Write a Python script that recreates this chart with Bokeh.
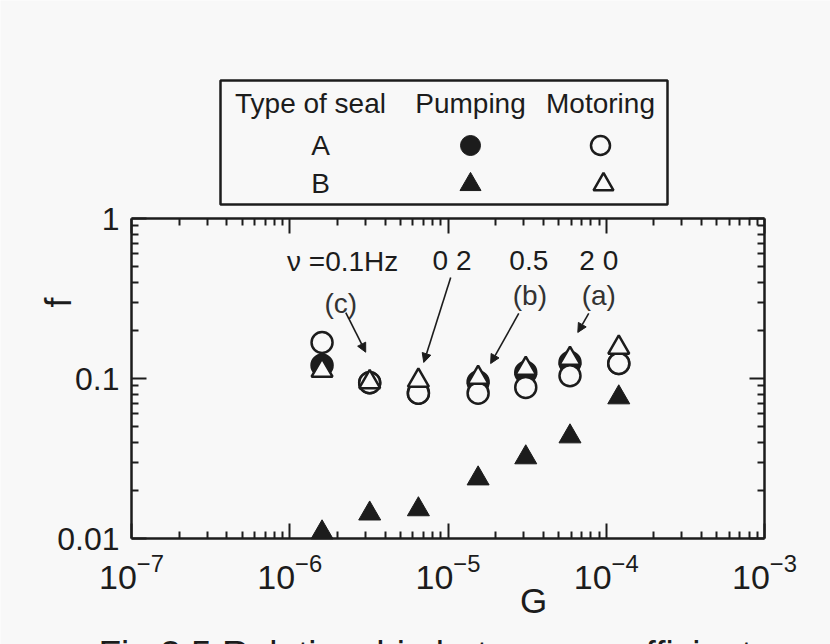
import math
from bokeh.plotting import figure
from bokeh.models import (Range1d, LogAxis, FixedTicker, CustomJSTickFormatter,
                          Label, Arrow, NormalHead, LinearScale)
from bokeh.core.properties import value
from bokeh.embed import file_html
from bokeh.resources import INLINE

# ---------------- data ----------------
G = [1.6e-6, 3.2e-6, 6.5e-6, 1.55e-5, 3.1e-5, 5.9e-5, 1.2e-4]
pumping_A = [0.121, 0.094, 0.081, 0.095, 0.109, 0.126, 0.124]
pumping_B = [0.0109, 0.0143, 0.0152, 0.0237, 0.0321, 0.0434, 0.0761]
motoring_A = [0.168, 0.094, 0.081, 0.081, 0.088, 0.104, 0.124]
motoring_B = [0.112, 0.095, 0.097, 0.101, 0.115, 0.133, 0.156]

x_ticks = [1e-7, 1e-6, 1e-5, 1e-4, 1e-3]
y_ticks = [0.01, 0.1, 1]
y_tick_labels = ["0.01", "0.1", "1"]

legend_header = ["Type of seal", "Pumping", "Motoring"]
legend_rows = ["A", "B"]

freq_texts = ["\u03bd =0.1Hz", "0 2", "0.5", "2 0"]
freq_G = [2.16e-6, 1.06e-5, 3.24e-5, 8.97e-5]
freq_f = [0.54, 0.55, 0.55, 0.55]
case_texts = ["(c)", "(b)", "(a)"]
case_G = [2.1e-6, 3.29e-5, 8.97e-5]
case_f = [0.294, 0.33, 0.33]
# arrows: (G_start, f_start, G_end, f_end)
arrows = [
    (2.26e-6, 0.258, 3.02e-6, 0.146),
    (1.04e-5, 0.428, 7.03e-6, 0.126),
    (2.80e-5, 0.255, 1.86e-5, 0.124),
    (7.75e-5, 0.255, 6.61e-5, 0.194),
]

x_label = "G"
y_label = "f"
caption = "Fig.3.5 Relationship between coefficient"

X_MIN, X_MAX = 1e-7, 1e-3
Y_MIN, Y_MAX = 0.01, 1.0

BG = "#f8f8f8"
INK = "#1c1c1c"
FONT = "Liberation Sans"

# ---------------- page geometry (pixels) ----------------
W, H = 830, 644
BOX_L, BOX_R, BOX_T, BOX_B = 131, 764, 218, 538
dec_x = (BOX_R - BOX_L) / (math.log10(X_MAX) - math.log10(X_MIN))
dec_y = (BOX_B - BOX_T) / (math.log10(Y_MAX) - math.log10(Y_MIN))
xr = Range1d(10 ** (math.log10(X_MIN) - BOX_L / dec_x), 10 ** (math.log10(X_MAX) + (W - BOX_R) / dec_x))
yr = Range1d(10 ** (math.log10(Y_MIN) - (H - BOX_B) / dec_y), 10 ** (math.log10(Y_MAX) + BOX_T / dec_y))

x_minor = [m * 10.0 ** e for e in range(-7, -3) for m in range(2, 10)]
y_minor = [m * 10.0 ** e for e in range(-2, 0) for m in range(2, 10)]

p = figure(width=W, height=H, x_axis_type="log", y_axis_type="log",
           x_range=xr, y_range=yr, output_backend="svg", toolbar_location=None,
           min_border=0, min_border_left=0, min_border_right=0, min_border_top=0, min_border_bottom=0,
           background_fill_color=BG, border_fill_color=BG, outline_line_color=None)
p.grid.visible = False
p.extra_x_ranges = {"px": Range1d(0, W)}
p.extra_y_ranges = {"py": Range1d(H, 0)}
p.extra_x_scales = {"px": LinearScale()}
p.extra_y_scales = {"py": LinearScale()}

yfmt = CustomJSTickFormatter(args=dict(yvals=y_ticks, ylabs=y_tick_labels), code="""
let best = 0, d = Infinity;
for (let i = 0; i < yvals.length; i++) {
  const e = Math.abs(Math.log10(tick) - Math.log10(yvals[i]));
  if (e < d) { d = e; best = i; }
}
return ylabs[best];
""")

def style_axis(ax):
    ax.axis_line_color = INK
    ax.axis_line_width = 2.5
    ax.major_tick_in = 15
    ax.major_tick_out = 0
    ax.minor_tick_in = 7
    ax.minor_tick_out = 0
    ax.major_tick_line_color = INK
    ax.minor_tick_line_color = INK
    ax.major_tick_line_width = 2
    ax.minor_tick_line_width = 2
    ax.major_label_text_font = FONT
    ax.major_label_text_color = INK

xa = p.xaxis[0]
xa.ticker = FixedTicker(ticks=x_ticks, minor_ticks=x_minor)
xa.fixed_location = Y_MIN
xa.bounds = (X_MIN, X_MAX)
style_axis(xa)
xa.major_label_text_font_size = "34px"
xa.major_label_standoff = 15

ya = p.yaxis[0]
ya.ticker = FixedTicker(ticks=y_ticks, minor_ticks=y_minor)
ya.formatter = yfmt
ya.fixed_location = X_MIN
ya.bounds = (Y_MIN, Y_MAX)
style_axis(ya)
ya.major_label_text_font_size = "32px"
ya.major_label_standoff = 12

top = LogAxis(ticker=FixedTicker(ticks=x_ticks, minor_ticks=x_minor),
              fixed_location=Y_MAX, bounds=(X_MIN, X_MAX))
style_axis(top)
top.major_label_text_font_size = "1px"
top.major_label_text_alpha = 0
top.major_label_standoff = 0
p.add_layout(top, "above")
right = LogAxis(ticker=FixedTicker(ticks=y_ticks, minor_ticks=y_minor),
                fixed_location=X_MAX, bounds=(Y_MIN, Y_MAX))
style_axis(right)
right.major_label_text_font_size = "1px"
right.major_label_text_alpha = 0
right.major_label_standoff = 0
p.add_layout(right, "right")

# ---------------- data markers ----------------
p.scatter(G, pumping_A, marker="circle", size=22, fill_color=INK, line_color=INK, line_width=1.5)
p.scatter(G, pumping_B, marker="triangle", size=22, fill_color=INK, line_color=INK, line_width=1)
p.scatter(G, motoring_A, marker="circle", size=21, fill_color=BG, line_color=INK, line_width=2.5)
p.scatter(G, motoring_B, marker="triangle", size=21, fill_color=BG, line_color=INK, line_width=2.5)

# ---------------- annotations in data space ----------------
for t, gx, fy in zip(freq_texts, freq_G, freq_f):
    p.add_layout(Label(x=gx, y=fy, text=t, text_align="center", text_baseline="middle",
                       text_font=FONT, text_font_size="28px", text_color=INK))
for t, gx, fy in zip(case_texts, case_G, case_f):
    p.add_layout(Label(x=gx, y=fy, text=t, text_align="center", text_baseline="middle",
                       text_font=FONT, text_font_size="28px", text_color="#333333"))
for (x0, y0, x1, y1) in arrows:
    p.add_layout(Arrow(x_start=x0, y_start=y0, x_end=x1, y_end=y1, line_color=INK,
                       line_width=1.6,
                       end=NormalHead(size=9, fill_color=INK, line_color=INK, line_width=1)))

# ---------------- page-positioned items (legend table, axis titles, caption) ----------------
kw = dict(x_range_name="px", y_range_name="py")
p.quad(left=[220], right=[667], top=[80], bottom=[204], fill_color=None,
       line_color=INK, line_width=2.5, **kw)
p.text(x=[310, 470, 600], y=[103, 103, 103], text=legend_header, text_align="center",
       text_baseline="middle", text_font=value(FONT), text_font_size="28px", text_color=INK, **kw)
p.text(x=[320, 320], y=[145, 183], text=legend_rows, text_align="center",
       text_baseline="middle", text_font=value(FONT), text_font_size="28px", text_color=INK, **kw)
p.scatter(x=[470], y=[145], marker="circle", size=20, fill_color=INK, line_color=INK, **kw)
p.scatter(x=[600], y=[145], marker="circle", size=19, fill_color=BG, line_color=INK, line_width=2.5, **kw)
p.scatter(x=[470], y=[184], marker="triangle", size=21, fill_color=INK, line_color=INK, **kw)
p.scatter(x=[603], y=[184], marker="triangle", size=20, fill_color=BG, line_color=INK, line_width=2.5, **kw)

p.text(x=[58], y=[302], text=[y_label], angle=math.pi / 2, text_align="center",
       text_baseline="middle", text_font=value(FONT), text_font_size="36px", text_color=INK, **kw)
p.text(x=[533], y=[600], text=[x_label], text_align="center",
       text_baseline="middle", text_font=value(FONT), text_font_size="35px", text_color=INK, **kw)
p.text(x=[98], y=[654], text=[caption], text_align="left",
       text_baseline="alphabetic", text_font=value(FONT), text_font_size="37px", text_color=INK, **kw)

open("out.html", "w").write(file_html(p, INLINE))
